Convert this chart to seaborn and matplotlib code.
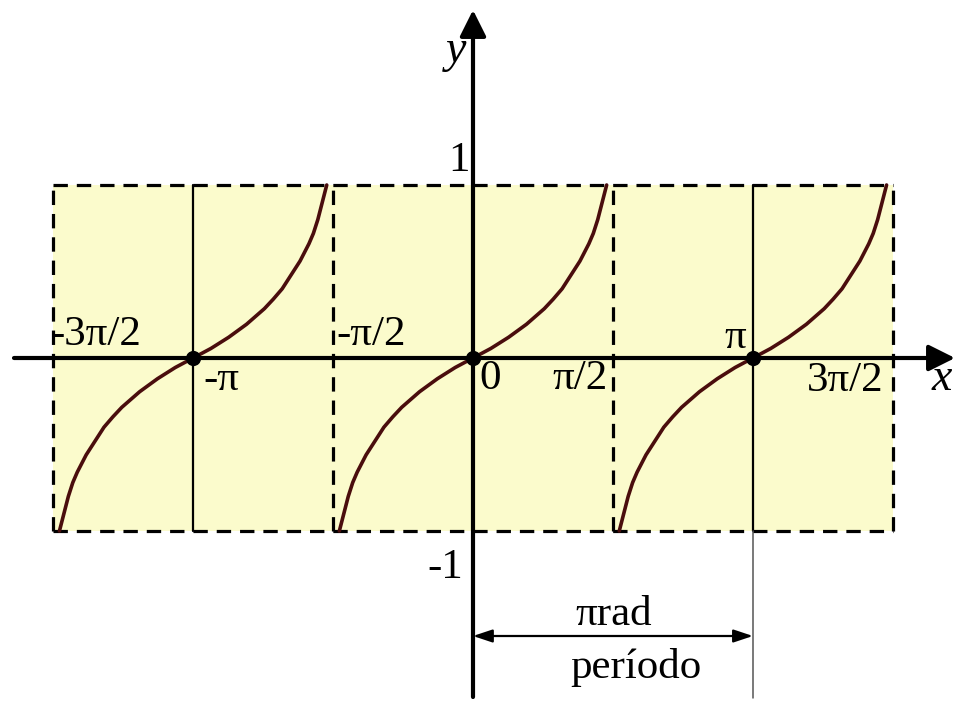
import numpy as np
import pandas as pd
import matplotlib
matplotlib.use("Agg")
import matplotlib.pyplot as plt
import seaborn as sns

PI = np.pi

# --- data -------------------------------------------------------------
# one branch of the curve, x relative to its centre (radians), y value
branch_x = [-1.500, -1.475, -1.45, -1.40, -1.35, -1.30, -1.25, -1.20, -1.10, -1.00, -0.90, -0.80,
            -0.60, -0.40, -0.20, 0.00,
            0.20, 0.40, 0.60, 0.80, 0.90, 1.00, 1.10, 1.20, 1.25, 1.30, 1.35, 1.40, 1.45, 1.475, 1.500]
branch_y = [-1.00, -0.95, -0.90, -0.80, -0.72, -0.66, -0.61, -0.56, -0.48, -0.40, -0.34, -0.285,
            -0.195, -0.12, -0.055, 0.00,
            0.055, 0.12, 0.195, 0.285, 0.34, 0.40, 0.48, 0.56, 0.61, 0.66, 0.72, 0.80, 0.90, 0.95, 1.00]
branch_centres = [-PI, 0.0, PI]            # zeros of the curve (dots)
dot_y = [0.0, 0.0, 0.0]

box_edges = [-3 * PI / 2, -PI / 2, PI / 2, 3 * PI / 2]   # dashed verticals
solid_lines = [-PI, PI]                                   # solid verticals
y_bounds = [-1.0, 1.0]

tick_labels = ["-3π/2", "-π", "-π/2", "0", "π/2", "π", "3π/2"]
tick_vals = [-3 * PI / 2, -PI, -PI / 2, 0.0, PI / 2, PI, 3 * PI / 2]
period_start, period_end = 0.0, PI
period_labels = ["πrad", "período"]

# --- build table --------------------------------------------------------
rows = []
for b, c in enumerate(branch_centres):
    for xr, yv in zip(branch_x, branch_y):
        rows.append({"branch": b, "x": c + xr, "y": yv})
df = pd.DataFrame(rows)

# --- figure geometry (pixel mapping) -----------------------------------
W, H = 956, 701
X0, SX = 473.0, 89.1     # pixel of x=0, pixels per radian
Y0, SY = 358.0, 173.0    # pixel of y=0, pixels per unit

def px(xp, yp):
    return (xp - X0) / SX, (Y0 - yp) / SY

sns.set_theme(style="white")
plt.rcParams["font.family"] = ["Liberation Serif", "DejaVu Serif"]
plt.rcParams["text.color"] = "black"

fig = plt.figure(figsize=(W / 100, H / 100), dpi=100)
ax = fig.add_axes([0, 0, 1, 1])
ax.set_xlim(px(0, 0)[0], px(W, 0)[0])
ax.set_ylim(px(0, H)[1], px(0, 0)[1])
ax.axis("off")

yellow = "#fbfbcc"
ax.fill_between([box_edges[0], box_edges[-1]], y_bounds[0], y_bounds[1],
                color=yellow, lw=0, zorder=0)

dash = dict(color="black", lw=2.3, linestyle=(0, (4.5, 2.8)), zorder=2)
for xe in box_edges:
    ax.plot([xe, xe], y_bounds, **dash)
for yb in y_bounds:
    ax.plot([box_edges[0], box_edges[-1]], [yb, yb], **dash)
for xs in solid_lines:
    ax.plot([xs, xs], y_bounds, color="black", lw=1.6, zorder=2)

# thin line marking the end of the period
ax.plot([period_end, period_end], [y_bounds[0], px(0, 698)[1]], color="#555555", lw=1.1, zorder=2)

# axes with arrows
xa0, _ = px(14, 0)
xa1, _ = px(955, 0)
_, ya0 = px(0, 697)
_, ya1 = px(0, 10)
ax.annotate("", xy=(xa1, 0), xytext=(xa0, 0),
            arrowprops=dict(arrowstyle="-|>,head_length=0.8,head_width=0.4", lw=3.0,
                            color="black", shrinkA=0, shrinkB=0, mutation_scale=20), zorder=3)
ax.annotate("", xy=(0, ya1), xytext=(0, ya0),
            arrowprops=dict(arrowstyle="-|>,head_length=0.8,head_width=0.4", lw=3.0,
                            color="black", shrinkA=0, shrinkB=0, mutation_scale=20), zorder=3)

# curves
sns.lineplot(data=df, x="x", y="y", units="branch", estimator=None, sort=False,
             color="#4a0d0d", lw=2.6, ax=ax, zorder=4, legend=False)
sns.scatterplot(x=branch_centres, y=dot_y, color="black", s=120, ax=ax, zorder=5,
                edgecolor="black", linewidth=0)

# period arrow
_, yper = px(0, 636)
ax.annotate("", xy=(period_end, yper), xytext=(period_start, yper),
            arrowprops=dict(arrowstyle="<|-|>,head_length=0.9,head_width=0.3", lw=1.6,
                            color="black", shrinkA=0, shrinkB=0, mutation_scale=13), zorder=3)

FS = 31
# tick labels: (pixel anchor x, baseline y, ha)
tick_layout = [(50, 345, "left"), (203, 390, "left"), (336, 345, "left"), (479, 389, "left"),
               (608, 389, "right"), (746, 348, "right"), (884, 391, "right")]
for lab, (xp, yp, ha) in zip(tick_labels, tick_layout):
    xd, yd = px(xp, yp)
    ax.text(xd, yd, lab, fontsize=FS, ha=ha, va="baseline", color="black", zorder=6)

xd, yd = px(932, 390)
ax.text(xd, yd, "x", fontsize=FS + 2, style="italic", ha="left", va="baseline", color="black")
xd, yd = px(456, 62)
ax.text(xd, yd, "y", fontsize=FS + 2, style="italic", ha="center", va="baseline", color="black")
xd, yd = px(459, 171)
ax.text(xd, yd, "1", fontsize=FS, ha="center", va="baseline", color="black")
xd, yd = px(463, 578)
ax.text(xd, yd, "-1", fontsize=FS, ha="right", va="baseline", color="black")

xd, yd = px(614, 625)
ax.text(xd, yd, period_labels[0], fontsize=FS, ha="center", va="baseline", color="black")
xd, yd = px(636, 678)
ax.text(xd, yd, period_labels[1], fontsize=FS, ha="center", va="baseline", color="black")

fig.savefig("out.png", dpi=100, facecolor="white")
